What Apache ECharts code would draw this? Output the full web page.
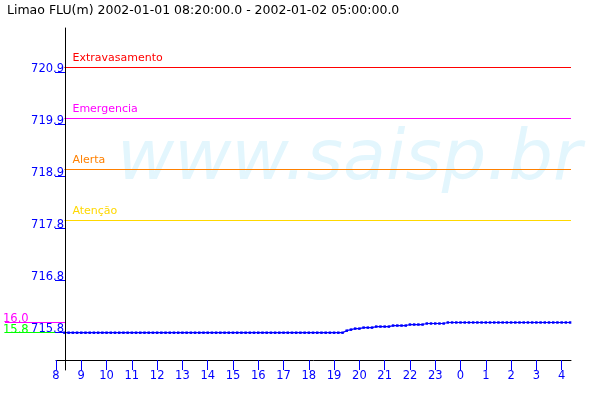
<!DOCTYPE html>
<html><head><meta charset="utf-8">
<script src="https://cdn.jsdelivr.net/npm/echarts@6/dist/echarts.min.js"></script>
<style>html,body{margin:0;padding:0;background:#fff}#c{width:600px;height:400px}</style>
</head><body><div id="c"></div>
<script>
const titleText = 'Limao FLU(m) 2002-01-01 08:20:00.0 - 2002-01-02 05:00:00.0';
const startHour = 8 + 20 / 60;   // 08:20
const stepHours = 10 / 60;       // 10-minute samples
const levels = [
  715.80,715.80,715.80,715.80,715.80,715.80,715.80,715.80,715.80,715.80,
  715.80,715.80,715.80,715.80,715.80,715.80,715.80,715.80,715.80,715.80,
  715.80,715.80,715.80,715.80,715.80,715.80,715.80,715.80,715.80,715.80,
  715.80,715.80,715.80,715.80,715.80,715.80,715.80,715.80,715.80,715.80,
  715.80,715.80,715.80,715.80,715.80,715.80,715.80,715.80,715.80,715.80,
  715.80,715.80,715.80,715.80,715.80,715.80,715.80,715.80,715.80,715.80,
  715.80,715.80,715.80,715.80,715.80,715.80,715.80,
  715.84,715.86,715.88,715.88,715.90,715.90,715.90,
  715.92,715.92,715.92,715.92,
  715.94,715.94,715.94,715.94,
  715.96,715.96,715.96,715.96,
  715.98,715.98,715.98,715.98,715.98,
  716.00,716.00,716.00,716.00,716.00,716.00,716.00,716.00,716.00,716.00,
  716.00,716.00,716.00,716.00,716.00,716.00,716.00,716.00,716.00,716.00,
  716.00,716.00,716.00,716.00,716.00,716.00,716.00,716.00,716.00,716.00
];
const thresholdNames = ['Extravasamento', 'Emergencia', 'Alerta', 'Atenção'];
const thresholdValues = [721.0, 720.0, 719.0, 718.0];
const thresholdColors = ['#ff0000', '#ff00ff', '#ff8000', '#ffd800'];
const yTickValues = [715.8, 716.82, 717.84, 718.86, 719.88, 720.9];
const yTickLabels = ['715.8', '716.8', '717.8', '718.9', '719.9', '720.9'];
const xTickValues = [8,9,10,11,12,13,14,15,16,17,18,19,20,21,22,23,24,25,26,27,28];
const xTickLabels = ['8','9','10','11','12','13','14','15','16','17','18','19','20','21','22','23','0','1','2','3','4'];
const maxValue = 716.0, maxLabel = '16.0';
const minValue = 715.8, minLabel = '15.8';

const xMin = 8, xMax = 28.37;
const yMin = 715.06863, yMax = 721.77451;
const FONT = 'DejaVu Sans';

const chart = echarts.init(document.getElementById('c'));
const yBase = {
  type: 'value', position: 'left', min: yMin, max: yMax, offset: -9,
  splitLine: { show: false }
};
const thresholdSeries = thresholdValues.map((v, i) => ({
  type: 'line',
  name: thresholdNames[i],
  data: [[startHour, v], [xMax, v]],
  symbol: 'none',
  silent: true,
  z: 3,
  color: thresholdColors[i],
  lineStyle: { color: thresholdColors[i], type: 'solid', width: 1 },
  emphasis: { disabled: true },
  markLine: {
    silent: true, symbol: 'none', animation: false,
    lineStyle: { color: 'rgba(255,255,255,0)', width: 1 },
    label: {
      show: true, position: 'insideStartTop', distance: [8, 4], formatter: '{b}',
      color: thresholdColors[i], fontFamily: FONT, fontSize: 11, opacity: 1
    },
    emphasis: { disabled: true },
    data: [[
      { coord: [startHour, v], name: thresholdNames[i] },
      { coord: [xMax, v] }
    ]]
  }
}));

chart.setOption({
  animation: false,
  backgroundColor: '#fff',
  title: {
    text: titleText, left: 7, top: 4, padding: 0,
    textStyle: { fontFamily: FONT, fontSize: 12.5, fontWeight: 'normal', color: '#000', lineHeight: 14 }
  },
  graphic: [{
    type: 'text', left: 117, top: 126, z: -10, silent: true,
    style: { text: 'www.saisp.br', font: 'italic 70px "DejaVu Sans"', fill: '#e3f6fd' }
  }],
  grid: { left: 51, right: 29, top: 28, bottom: 30, containLabel: false },
  xAxis: {
    type: 'value', min: xMin, max: xMax, offset: -10,
    axisLine: { onZero: false, lineStyle: { color: '#000', width: 1 } },
    axisTick: { show: true, length: 10, customValues: xTickValues, lineStyle: { color: '#0000ff' } },
    axisLabel: {
      customValues: xTickValues, margin: 10, color: '#0000ff', fontFamily: FONT, fontSize: 11.5,
      formatter: v => xTickLabels[xTickValues.indexOf(Math.round(v))]
    },
    splitLine: { show: false }
  },
  yAxis: [
    Object.assign({}, yBase, {
      z: 5,
      axisLine: { show: true, onZero: false, lineStyle: { color: '#000', width: 1 } },
      axisTick: { show: true, length: 10, customValues: yTickValues, lineStyle: { color: '#0000ff' } },
      axisLabel: {
        customValues: yTickValues, margin: 1, color: '#0000ff', fontFamily: FONT, fontSize: 11.5,
        verticalAlign: 'bottom', lineHeight: 8,
        formatter: v => yTickLabels[yTickValues.indexOf(v)]
      }
    }),
    Object.assign({}, yBase, {
      z: 3,
      axisLine: { show: false },
      axisTick: { show: true, length: 60, customValues: [maxValue], lineStyle: { color: '#ff00ff' } },
      axisLabel: {
        customValues: [maxValue], margin: 62, align: 'left', color: '#ff00ff', fontFamily: FONT, fontSize: 11.5,
        verticalAlign: 'bottom', lineHeight: 6, formatter: () => maxLabel
      }
    }),
    Object.assign({}, yBase, {
      z: 2,
      axisLine: { show: false },
      axisTick: { show: true, length: 60, customValues: [minValue], lineStyle: { color: '#00ff00' } },
      axisLabel: {
        customValues: [minValue], margin: 62, align: 'left', color: '#00ff00', fontFamily: FONT, fontSize: 11.5,
        verticalAlign: 'bottom', lineHeight: 6, formatter: () => minLabel
      }
    })
  ],
  series: thresholdSeries.concat([{
    type: 'line',
    name: 'Nível',
    yAxisIndex: 0,
    data: levels.map((v, i) => [startHour + i * stepHours, v]),
    symbol: 'rect', symbolSize: 2.5, showSymbol: true, showAllSymbol: true,
    lineStyle: { color: '#0000ff', width: 1.2 },
    itemStyle: { color: '#0000ff' },
    silent: true, z: 4
  }])
});
</script>
</body></html>
